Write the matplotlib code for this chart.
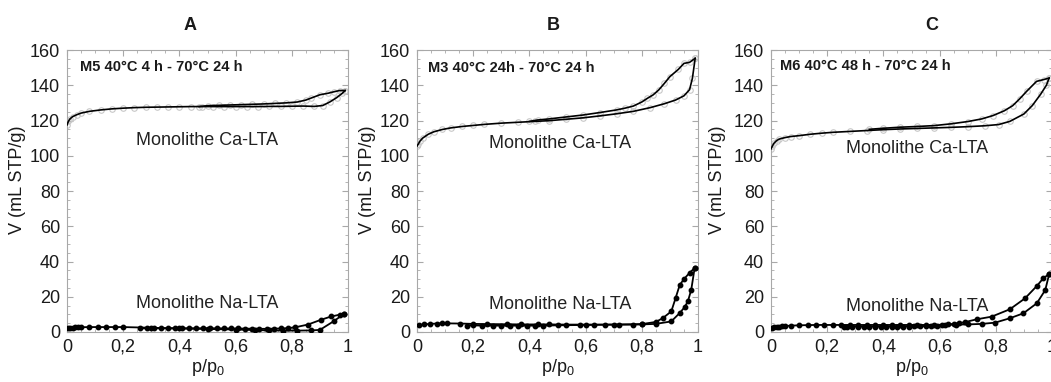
import numpy as np
import matplotlib
matplotlib.use('Agg')
import matplotlib.pyplot as plt
from matplotlib.ticker import MultipleLocator, FuncFormatter

plt.rcParams['font.family'] = ['Liberation Sans', 'DejaVu Sans']
plt.rcParams['mathtext.default'] = 'regular'

# --- Panel A : M5 ---
a_ca_ads_p = [0.0, 0.005, 0.01, 0.02, 0.035, 0.05, 0.08, 0.12, 0.16, 0.2, 0.24, 0.28, 0.32, 0.36, 0.4,
              0.44, 0.48, 0.52, 0.56, 0.6, 0.64, 0.68, 0.72, 0.76, 0.8, 0.84, 0.88, 0.91, 0.935, 0.96, 0.98, 0.99]
a_ca_ads_v = [117.5, 119.5, 120.8, 122.2, 123.3, 124.2, 125.2, 126.0, 126.6, 127.0, 127.3, 127.5, 127.6, 127.7, 127.8,
              127.9, 127.9, 127.9, 127.9, 127.9, 127.9, 127.9, 128.0, 128.0, 128.1, 128.2, 128.0, 128.5, 130.5, 133.0, 135.5, 137.0]
a_ca_des_p = [0.99, 0.97, 0.95, 0.93, 0.9, 0.87, 0.85, 0.82, 0.78, 0.74, 0.7, 0.66, 0.62, 0.58, 0.54, 0.5, 0.47]
a_ca_des_v = [137.0, 137.0, 136.3, 135.5, 134.6, 132.8, 131.6, 130.5, 130.0, 129.7, 129.4, 129.2, 129.0, 128.8, 128.6, 128.4, 127.9]

a_na_ads_p = [0.003, 0.01, 0.02, 0.03, 0.04, 0.05, 0.08, 0.11, 0.14, 0.17, 0.2, 0.3, 0.4, 0.5, 0.6,
              0.67, 0.72, 0.77, 0.82, 0.87, 0.9, 0.95, 0.985]
a_na_ads_v = [2.0, 2.3, 2.5, 2.6, 2.7, 2.7, 2.8, 2.8, 2.8, 2.8, 2.8, 2.4, 2.0, 1.7, 1.4,
              1.1, 0.9, 0.8, 0.8, 0.9, 1.2, 6.2, 10.2]
a_na_des_p = [0.985, 0.97, 0.94, 0.905, 0.857, 0.81, 0.785, 0.76, 0.735, 0.71, 0.685, 0.66, 0.635, 0.61,
              0.585, 0.56, 0.535, 0.51, 0.485, 0.46, 0.435, 0.41, 0.385, 0.36, 0.335, 0.31, 0.285, 0.26]
a_na_des_v = [10.2, 9.8, 8.8, 7.0, 4.2, 2.6, 2.2, 2.0, 1.9, 1.8, 1.8, 1.9, 1.9, 2.0,
              2.0, 2.0, 2.1, 2.1, 2.1, 2.1, 2.1, 2.1, 2.1, 2.1, 2.1, 2.1, 2.1, 2.1]

# --- Panel B : M3 ---
b_ca_ads_p = [0.0, 0.005, 0.01, 0.02, 0.04, 0.06, 0.09, 0.12, 0.16, 0.2, 0.24, 0.3, 0.36, 0.42, 0.47,
              0.53, 0.59, 0.65, 0.71, 0.77, 0.83, 0.88, 0.92, 0.95, 0.97, 0.98, 0.99]
b_ca_ads_v = [105.5, 106.7, 108.2, 110.0, 112.2, 113.6, 114.9, 115.8, 116.6, 117.2, 117.8, 118.5, 119.0, 119.5, 119.9,
              120.7, 121.5, 122.6, 123.8, 125.2, 127.3, 129.5, 131.6, 134.0, 137.5, 143.9, 155.3]
b_ca_des_p = [0.99, 0.97, 0.95, 0.93, 0.9, 0.88, 0.86, 0.84, 0.82, 0.8, 0.77, 0.74, 0.71, 0.65, 0.59,
              0.53, 0.47, 0.43, 0.4]
b_ca_des_v = [155.3, 153.0, 152.4, 149.0, 144.9, 141.0, 137.3, 134.5, 132.6, 130.5, 128.2, 127.0, 126.0, 124.5, 123.1,
              122.0, 120.9, 120.3, 119.5]

b_na_ads_p = [0.006, 0.024, 0.047, 0.07, 0.089, 0.107, 0.154, 0.2, 0.25, 0.32, 0.37, 0.43, 0.47, 0.53, 0.58,
              0.63, 0.67, 0.72, 0.77, 0.8, 0.85, 0.905, 0.935, 0.952, 0.964, 0.976, 0.988]
b_na_ads_v = [3.8, 4.3, 4.6, 4.8, 4.9, 4.9, 4.8, 4.6, 4.5, 4.4, 4.3, 4.3, 4.3, 4.2, 4.2,
              4.2, 4.2, 4.2, 4.2, 4.3, 4.6, 6.0, 10.8, 14.0, 17.4, 24.0, 36.3]
b_na_des_p = [0.988, 0.97, 0.95, 0.935, 0.92, 0.905, 0.875, 0.85, 0.8, 0.7, 0.6, 0.5, 0.45, 0.42, 0.39,
              0.36, 0.33, 0.3, 0.27, 0.23, 0.2, 0.177]
b_na_des_v = [36.3, 33.6, 30.0, 26.7, 19.1, 11.7, 7.9, 5.7, 4.5, 4.2, 4.0, 3.8, 3.6, 3.6, 3.6,
              3.6, 3.6, 3.6, 3.6, 3.6, 3.8, 3.6]

# --- Panel C : M6 ---
c_ca_ads_p = [0.0, 0.005, 0.01, 0.02, 0.03, 0.05, 0.07, 0.1, 0.14, 0.18, 0.22, 0.28, 0.34, 0.4, 0.46,
              0.52, 0.58, 0.64, 0.7, 0.76, 0.81, 0.85, 0.9, 0.93, 0.96, 0.98, 0.99]
c_ca_ads_v = [103.9, 105.5, 107.0, 108.6, 109.5, 110.3, 110.9, 111.4, 112.2, 112.8, 113.3, 113.8, 114.3, 114.8, 115.2,
              115.5, 115.8, 116.1, 116.5, 117.0, 117.7, 119.5, 123.7, 128.5, 135.0, 140.0, 144.1]
c_ca_des_p = [0.99, 0.97, 0.945, 0.91, 0.885, 0.86, 0.83, 0.79, 0.75, 0.7, 0.64, 0.58, 0.52, 0.46, 0.4, 0.35]
c_ca_des_v = [144.1, 143.2, 142.2, 136.6, 132.3, 128.4, 125.5, 122.8, 120.9, 119.4, 118.1, 117.1, 116.6, 116.2, 115.6, 115.0]

c_na_ads_p = [0.003, 0.01, 0.02, 0.03, 0.04, 0.05, 0.07, 0.1, 0.13, 0.16, 0.19, 0.22, 0.25, 0.28, 0.31,
              0.34, 0.37, 0.4, 0.43, 0.46, 0.49, 0.52, 0.55, 0.58, 0.62, 0.66, 0.7, 0.75, 0.797, 0.85,
              0.898, 0.946, 0.976, 0.99]
c_na_ads_v = [2.2, 2.6, 2.9, 3.1, 3.3, 3.4, 3.6, 3.8, 3.9, 4.0, 4.0, 4.0, 4.0, 4.0, 4.0,
              4.0, 4.0, 4.0, 4.0, 4.0, 4.0, 4.0, 4.0, 4.1, 4.1, 4.2, 4.3, 4.6, 5.3, 7.8,
              10.6, 16.3, 23.8, 32.9]
c_na_des_p = [0.99, 0.969, 0.946, 0.904, 0.85, 0.785, 0.732, 0.69, 0.67, 0.65, 0.63, 0.61, 0.59, 0.57, 0.55,
              0.53, 0.51, 0.49, 0.47, 0.45, 0.43, 0.41, 0.39, 0.37, 0.35, 0.33, 0.31, 0.29, 0.27, 0.26]
c_na_des_v = [32.9, 30.5, 26.1, 19.1, 12.9, 8.7, 7.2, 5.6, 5.0, 4.6, 4.3, 4.0, 3.6, 3.4, 3.3,
              3.2, 3.2, 3.1, 3.1, 3.1, 3.0, 3.0, 3.0, 3.0, 3.0, 3.0, 3.0, 3.0, 3.0, 3.0]

panel_letters = ['A', 'B', 'C']
sample_labels = ['M5 40°C 4 h - 70°C 24 h', 'M3 40°C 24h - 70°C 24 h', 'M6 40°C 48 h - 70°C 24 h']

panels = [
    (a_ca_ads_p, a_ca_ads_v, a_ca_des_p, a_ca_des_v, a_na_ads_p, a_na_ads_v, a_na_des_p, a_na_des_v),
    (b_ca_ads_p, b_ca_ads_v, b_ca_des_p, b_ca_des_v, b_na_ads_p, b_na_ads_v, b_na_des_p, b_na_des_v),
    (c_ca_ads_p, c_ca_ads_v, c_ca_des_p, c_ca_des_v, c_na_ads_p, c_na_ads_v, c_na_des_p, c_na_des_v),
]

W, H = 1051, 382
fig = plt.figure(figsize=(W / 100, H / 100), dpi=100)

lefts = [67, 417, 771]
letter_x = [190, 553, 932]
ylab_x = [18, 367, 717]
lab_pos = [(0.046, 0.94), (0.04, 0.935), (0.032, 0.945)]
ca_pos = [(0.50, 0.68), (0.51, 0.67), (0.52, 0.65)]
na_pos = [(0.50, 0.10), (0.51, 0.096), (0.52, 0.089)]

frame_col = '#a8a8a8'
fmt = FuncFormatter(lambda v, pos: ('%g' % round(v, 2)).replace('.', ','))

for i, d in enumerate(panels):
    ax = fig.add_axes([lefts[i] / W, (H - 332) / H, 281 / W, 282 / H])
    ca_ap, ca_av, ca_dp, ca_dv, na_ap, na_av, na_dp, na_dv = d

    # Ca-LTA: black line over light grey circles
    for p, v in [(ca_ap, ca_av), (ca_dp, ca_dv)]:
        ax.plot(p, v, 'o', ms=4, mfc='none', mec='#c8c8c8', mew=0.8, zorder=2)
        ax.plot(p, v, '-', color='black', lw=1.2, zorder=3)
    # Na-LTA: black line with black dots
    for p, v in [(na_ap, na_av), (na_dp, na_dv)]:
        ax.plot(p, v, '-o', color='black', ms=3.2, lw=1.3, zorder=3)

    ax.set_xlim(0, 1)
    ax.set_ylim(0, 160)
    ax.xaxis.set_major_locator(MultipleLocator(0.2))
    ax.xaxis.set_minor_locator(MultipleLocator(0.05))
    ax.yaxis.set_major_locator(MultipleLocator(20))
    ax.yaxis.set_minor_locator(MultipleLocator(5))
    ax.xaxis.set_major_formatter(fmt)
    ax.tick_params(which='both', direction='in', top=True, right=True, color=frame_col,
                   labelsize=13, labelcolor='#1a1a1a')
    ax.tick_params(which='major', length=4, width=0.8)
    ax.tick_params(which='minor', length=2.5, width=0.6)
    ax.tick_params(axis='x', pad=5)
    ax.tick_params(axis='y', pad=5)
    for s in ax.spines.values():
        s.set_color(frame_col)
        s.set_linewidth(0.8)

    ax.text(lab_pos[i][0], lab_pos[i][1], sample_labels[i], transform=ax.transAxes,
            ha='left', va='center', fontsize=10.5, fontweight='bold', color='#1a1a1a')
    ax.text(ca_pos[i][0], ca_pos[i][1], 'Monolithe Ca-LTA', transform=ax.transAxes,
            ha='center', va='center', fontsize=13, color='#222222')
    ax.text(na_pos[i][0], na_pos[i][1], 'Monolithe Na-LTA', transform=ax.transAxes,
            ha='center', va='center', fontsize=13, color='#222222')

    fig.text(letter_x[i] / W, 1 - 25 / H, panel_letters[i], ha='center', va='center',
             fontsize=13, fontweight='bold', color='#1a1a1a')
    fig.text(ylab_x[i] / W, 1 - 180 / H, 'V (mL STP/g)', rotation=90, ha='center', va='center',
             fontsize=13, color='#1a1a1a')
    fig.text((lefts[i] + 140.5) / W, 1 - 368 / H, 'p/p$_{0}$', ha='center', va='center',
             fontsize=13, color='#1a1a1a')

fig.savefig('out.png', dpi=100)
